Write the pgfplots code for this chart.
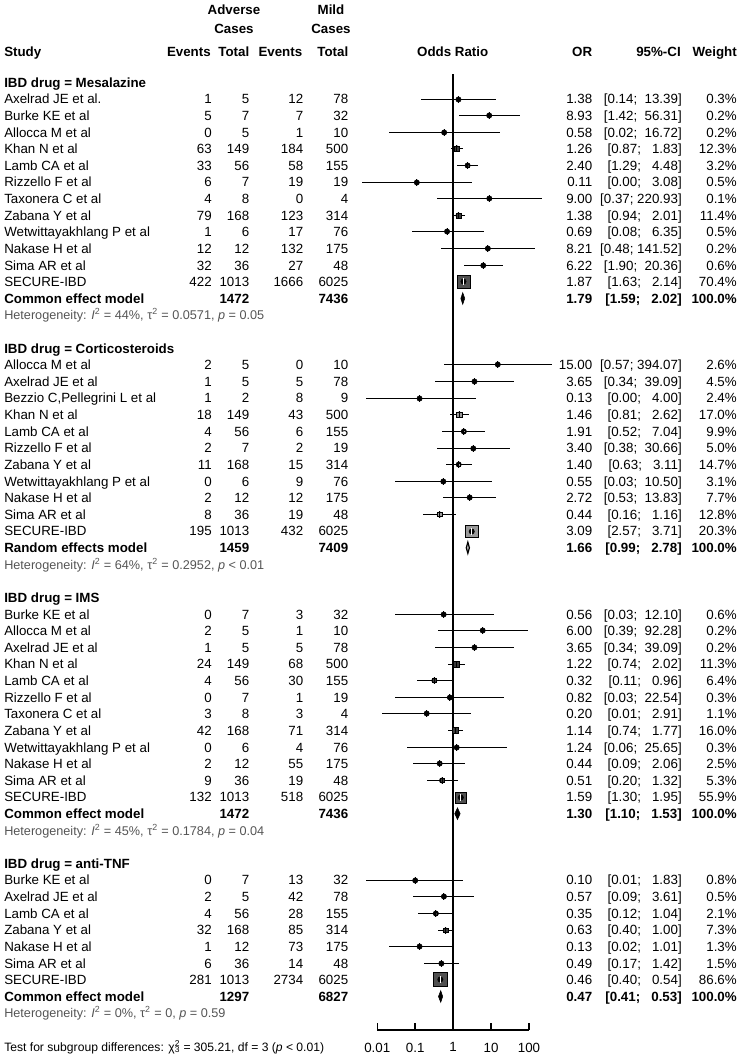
\documentclass[border=0pt]{standalone}
\usepackage{fontspec}
\setmainfont{Liberation Sans}
\usepackage{pgfplots}
\usepackage{pgfplotstable}
\pgfplotsset{compat=1.18}
\definecolor{sqdark}{HTML}{3A3A3A}
\definecolor{sqsec}{HTML}{505050}
\definecolor{sqlight}{HTML}{999999}
\definecolor{hetgray}{HTML}{555555}

\newcommand\fs{\fontsize{10}{12}\selectfont}
\newcommand\Y[1]{{-(87.2+16.62*(#1))}}
\newcommand\R[9]{%
 \node[anchor=base west] at (4,\Y{#1}) {#2};
 \node[anchor=base east] at (212,\Y{#1}) {#3};
 \node[anchor=base east] at (249.5,\Y{#1}) {#4};
 \node[anchor=base east] at (303.5,\Y{#1}) {#5};
 \node[anchor=base east] at (348.5,\Y{#1}) {#6};
 \node[anchor=base east] at (592.5,\Y{#1}) {#7};
 \node[anchor=base east] at (682,\Y{#1}) {#8};
 \node[anchor=base east] at (737,\Y{#1}) {#9};
}
\newcommand\M[7]{%
 \node[anchor=base west,font=\fs\bfseries] at (4,\Y{#1}) {#2};
 \node[anchor=base east,font=\fs\bfseries] at (249.5,\Y{#1}) {#3};
 \node[anchor=base east,font=\fs\bfseries] at (348.5,\Y{#1}) {#4};
 \node[anchor=base east,font=\fs\bfseries] at (592.5,\Y{#1}) {#5};
 \node[anchor=base east,font=\fs\bfseries] at (682,\Y{#1}) {#6};
 \node[anchor=base east,font=\fs\bfseries] at (737,\Y{#1}) {#7};
}
\newcommand\G[2]{\node[anchor=base west,font=\fs\bfseries] at (4,\Y{#1}) {#2};}
\newcommand\Het[2]{\node[anchor=base west,font=\fontsize{9.5}{11}\selectfont,text=hetgray] at (4,\Y{#1}) {#2};}

\pgfplotstableread{
row or lo hi s
1 1.38 0.14 13.39 0.8
2 8.93 1.42 56.31 0.7
3 0.58 0.02 16.72 0.7
4 1.26 0.87 1.83 5.3
5 2.40 1.29 4.48 2.7
6 0.11 0.004 3.08 1.1
7 9.00 0.37 220.93 0.5
8 1.38 0.94 2.01 5.1
9 0.69 0.08 6.35 1.1
10 8.21 0.48 141.52 0.7
11 6.22 1.90 20.36 1.2
}\mesa
\pgfplotstableread{
row or lo hi s
17 15.00 0.57 394.07 1
18 3.65 0.34 39.09 1
19 0.13 0.005 4.00 1
20 1.46 0.81 2.62 5.3
21 1.91 0.52 7.04 2.5
22 3.40 0.38 30.66 1.5
23 1.40 0.63 3.11 3.3
24 0.55 0.03 10.50 1
25 2.72 0.53 13.83 1.5
26 0.44 0.16 1.16 4.3
}\cort
\pgfplotstableread{
row or lo hi s
32 0.56 0.03 12.10 1.2
33 6.00 0.39 92.28 0.7
34 3.65 0.34 39.09 0.7
35 1.22 0.74 2.02 5.5
36 0.32 0.11 0.96 3.6
37 0.82 0.03 22.54 0.8
38 0.20 0.013 2.91 1.6
39 1.14 0.74 1.77 6.0
40 1.24 0.06 25.65 0.8
41 0.44 0.09 2.06 2.5
42 0.51 0.20 1.32 3.6
}\ims
\pgfplotstableread{
row or lo hi s
48 0.10 0.005 1.83 1.4
49 0.57 0.09 3.61 1.1
50 0.35 0.12 1.04 2.6
51 0.63 0.40 1.00 4.5
52 0.13 0.02 1.01 1.7
53 0.49 0.17 1.42 1.9
}\tnf
\pgfplotstableread{
row or lo hi s
12 1.87 1.63 2.14 12.6
43 1.59 1.30 1.95 11.4
54 0.46 0.40 0.54 14.2
}\secure
\pgfplotstableread{
row or lo hi s
27 3.09 2.57 3.71 12.4
}\csecure

\pgfplotsset{
 rowpos/.style={table/x=or,
   table/y expr={-(floor(82.4+16.62*\thisrow{row})+0.5-82.4)/16.62}},
 ci/.style={only marks, mark=none, forget plot, rowpos,
   table/x error plus expr=\thisrow{hi}-\thisrow{or},
   table/x error minus expr=\thisrow{or}-\thisrow{lo},
   error bars/.cd, x dir=both, x explicit, error mark=none,
   error bar style={draw=#1, line width=1pt}},
 sq/.style={scatter, only marks, mark=square*, point meta=\thisrow{s}, forget plot, rowpos,
   scatter/use mapped color={draw=none, fill=#1},
   visualization depends on={0.375*\thisrow{s} \as \sz},
   scatter/@pre marker code/.append style={/tikz/mark size=\sz}},
 tk/.style={only marks, mark=|, mark size=2.5pt, forget plot, rowpos,
   mark options={line width=0.75pt, draw=#1}},
}

\begin{document}
\begin{tikzpicture}
\useasboundingbox (0,0) rectangle (555.75pt,-795pt);
\begin{axis}[
  at={(282.975pt,-772.5pt)}, anchor=south west,
  scale only axis, width=113.78pt, height=717pt,
  xmode=log, xmin=0.01, xmax=100,
  ymin=-57.016, ymax=0.5054,
  axis x line*=bottom, axis y line=none,
  xtick={0.01,0.1,1,10,100}, xticklabels={0.01,0.1,1,10,100},
  xminorticks=false,
  tick align=inside, major tick length=5.25pt,
  xtick style={line width=1.2pt, black},
  axis line style={line width=1.2pt, black},
  xticklabel style={font=\fs, yshift=-6pt},
  /pgf/number format/assume math mode=true,
  clip=false,
]
\addplot[line width=1.2pt, black] coordinates {(1,0.5054) (1,-57.016)};
% CI lines
\addplot[ci=black] table {\mesa};
\addplot[ci=black] table {\cort};
\addplot[ci=black] table {\ims};
\addplot[ci=black] table {\tnf};
% squares
\addplot[sq=sqdark] table {\mesa};
\addplot[sq=sqlight] table {\cort};
\addplot[sq=sqdark] table {\ims};
\addplot[sq=sqdark] table {\tnf};
% estimate ticks
\addplot[tk=black] table {\mesa};
\addplot[tk=black] table {\cort};
\addplot[tk=black] table {\ims};
\addplot[tk=black] table {\tnf};
% SECURE-IBD boxes with white CI inside
\addplot[sq=sqsec] table {\secure};
\addplot[sq=sqlight] table {\csecure};
\addplot[ci=white] table {\secure};
\addplot[ci=white] table {\csecure};
\addplot[tk=white] table {\secure};
\addplot[tk=white] table {\csecure};
% summary diamonds
\addplot[fill=black, draw=black, line width=0.4pt] coordinates {(1.59,-13) (1.79,-12.65) (2.02,-13) (1.79,-13.35)} --cycle;
\addplot[fill=black!25, draw=black, line width=0.9pt] coordinates {(2.22,-28) (2.44,-27.66) (2.68,-28) (2.44,-28.34)} --cycle;
\addplot[fill=black, draw=black, line width=0.4pt] coordinates {(1.10,-44) (1.30,-43.65) (1.53,-44) (1.30,-44.35)} --cycle;
\addplot[fill=black, draw=black, line width=0.4pt] coordinates {(0.41,-55) (0.47,-54.65) (0.53,-55) (0.47,-55.35)} --cycle;
\end{axis}

\begin{scope}[x=0.75pt, y=0.75pt, every node/.style={inner sep=0pt, font=\fs}]
% header
\node[anchor=base, font=\fs\bfseries] at (234,-14.8) {Adverse};
\node[anchor=base, font=\fs\bfseries] at (234,-33.1) {Cases};
\node[anchor=base, font=\fs\bfseries] at (331,-14.8) {Mild};
\node[anchor=base, font=\fs\bfseries] at (331,-33.1) {Cases};
\node[anchor=base west, font=\fs\bfseries] at (4,-56.5) {Study};
\node[anchor=base east, font=\fs\bfseries] at (211,-56.5) {Events};
\node[anchor=base east, font=\fs\bfseries] at (249.5,-56.5) {Total};
\node[anchor=base east, font=\fs\bfseries] at (302.5,-56.5) {Events};
\node[anchor=base east, font=\fs\bfseries] at (348.5,-56.5) {Total};
\node[anchor=base, font=\fs\bfseries] at (452.7,-56.5) {Odds Ratio};
\node[anchor=base east, font=\fs\bfseries] at (592.5,-56.5) {OR};
\node[anchor=base east, font=\fs\bfseries] at (681,-56.5) {95\%-CI};
\node[anchor=base east, font=\fs\bfseries] at (737,-56.5) {Weight};

\G{0}{IBD drug = Mesalazine}
\R{1}{Axelrad JE et al.}{1}{5}{12}{78}{1.38}{[0.14;\ \ 13.39]}{0.3\%}
\R{2}{Burke KE et al}{5}{7}{7}{32}{8.93}{[1.42;\ \ 56.31]}{0.2\%}
\R{3}{Allocca M et al}{0}{5}{1}{10}{0.58}{[0.02;\ \ 16.72]}{0.2\%}
\R{4}{Khan N et al}{63}{149}{184}{500}{1.26}{[0.87;\ \ \ 1.83]}{12.3\%}
\R{5}{Lamb CA et al}{33}{56}{58}{155}{2.40}{[1.29;\ \ \ 4.48]}{3.2\%}
\R{6}{Rizzello F et al}{6}{7}{19}{19}{0.11}{[0.00;\ \ \ 3.08]}{0.5\%}
\R{7}{Taxonera C et al}{4}{8}{0}{4}{9.00}{[0.37;\ 220.93]}{0.1\%}
\R{8}{Zabana Y et al}{79}{168}{123}{314}{1.38}{[0.94;\ \ \ 2.01]}{11.4\%}
\R{9}{Wetwittayakhlang P et al}{1}{6}{17}{76}{0.69}{[0.08;\ \ \ 6.35]}{0.5\%}
\R{10}{Nakase H et al}{12}{12}{132}{175}{8.21}{[0.48;\ 141.52]}{0.2\%}
\R{11}{Sima AR et al}{32}{36}{27}{48}{6.22}{[1.90;\ \ 20.36]}{0.6\%}
\R{12}{SECURE-IBD}{422}{1013}{1666}{6025}{1.87}{[1.63;\ \ \ 2.14]}{70.4\%}
\M{13}{Common effect model}{1472}{7436}{1.79}{[1.59;\ \ \ 2.02]}{100.0\%}
\Het{14}{Heterogeneity: \textit{I}\textsuperscript{2} = 44\%, τ\textsuperscript{2} = 0.0571, \textit{p} = 0.05}

\G{16}{IBD drug = Corticosteroids}
\R{17}{Allocca M et al}{2}{5}{0}{10}{15.00}{[0.57;\ 394.07]}{2.6\%}
\R{18}{Axelrad JE et al}{1}{5}{5}{78}{3.65}{[0.34;\ \ 39.09]}{4.5\%}
\R{19}{Bezzio C,Pellegrini L et al}{1}{2}{8}{9}{0.13}{[0.00;\ \ \ 4.00]}{2.4\%}
\R{20}{Khan N et al}{18}{149}{43}{500}{1.46}{[0.81;\ \ \ 2.62]}{17.0\%}
\R{21}{Lamb CA et al}{4}{56}{6}{155}{1.91}{[0.52;\ \ \ 7.04]}{9.9\%}
\R{22}{Rizzello F et al}{2}{7}{2}{19}{3.40}{[0.38;\ \ 30.66]}{5.0\%}
\R{23}{Zabana Y et al}{11}{168}{15}{314}{1.40}{[0.63;\ \ \ 3.11]}{14.7\%}
\R{24}{Wetwittayakhlang P et al}{0}{6}{9}{76}{0.55}{[0.03;\ \ 10.50]}{3.1\%}
\R{25}{Nakase H et al}{2}{12}{12}{175}{2.72}{[0.53;\ \ 13.83]}{7.7\%}
\R{26}{Sima AR et al}{8}{36}{19}{48}{0.44}{[0.16;\ \ \ 1.16]}{12.8\%}
\R{27}{SECURE-IBD}{195}{1013}{432}{6025}{3.09}{[2.57;\ \ \ 3.71]}{20.3\%}
\M{28}{Random effects model}{1459}{7409}{1.66}{[0.99;\ \ \ 2.78]}{100.0\%}
\Het{29}{Heterogeneity: \textit{I}\textsuperscript{2} = 64\%, τ\textsuperscript{2} = 0.2952, \textit{p} < 0.01}

\G{31}{IBD drug = IMS}
\R{32}{Burke KE et al}{0}{7}{3}{32}{0.56}{[0.03;\ \ 12.10]}{0.6\%}
\R{33}{Allocca M et al}{2}{5}{1}{10}{6.00}{[0.39;\ \ 92.28]}{0.2\%}
\R{34}{Axelrad JE et al}{1}{5}{5}{78}{3.65}{[0.34;\ \ 39.09]}{0.2\%}
\R{35}{Khan N et al}{24}{149}{68}{500}{1.22}{[0.74;\ \ \ 2.02]}{11.3\%}
\R{36}{Lamb CA et al}{4}{56}{30}{155}{0.32}{[0.11;\ \ \ 0.96]}{6.4\%}
\R{37}{Rizzello F et al}{0}{7}{1}{19}{0.82}{[0.03;\ \ 22.54]}{0.3\%}
\R{38}{Taxonera C et al}{3}{8}{3}{4}{0.20}{[0.01;\ \ \ 2.91]}{1.1\%}
\R{39}{Zabana Y et al}{42}{168}{71}{314}{1.14}{[0.74;\ \ \ 1.77]}{16.0\%}
\R{40}{Wetwittayakhlang P et al}{0}{6}{4}{76}{1.24}{[0.06;\ \ 25.65]}{0.3\%}
\R{41}{Nakase H et al}{2}{12}{55}{175}{0.44}{[0.09;\ \ \ 2.06]}{2.5\%}
\R{42}{Sima AR et al}{9}{36}{19}{48}{0.51}{[0.20;\ \ \ 1.32]}{5.3\%}
\R{43}{SECURE-IBD}{132}{1013}{518}{6025}{1.59}{[1.30;\ \ \ 1.95]}{55.9\%}
\M{44}{Common effect model}{1472}{7436}{1.30}{[1.10;\ \ \ 1.53]}{100.0\%}
\Het{45}{Heterogeneity: \textit{I}\textsuperscript{2} = 45\%, τ\textsuperscript{2} = 0.1784, \textit{p} = 0.04}

\G{47}{IBD drug = anti-TNF}
\R{48}{Burke KE et al}{0}{7}{13}{32}{0.10}{[0.01;\ \ \ 1.83]}{0.8\%}
\R{49}{Axelrad JE et al}{2}{5}{42}{78}{0.57}{[0.09;\ \ \ 3.61]}{0.5\%}
\R{50}{Lamb CA et al}{4}{56}{28}{155}{0.35}{[0.12;\ \ \ 1.04]}{2.1\%}
\R{51}{Zabana Y et al}{32}{168}{85}{314}{0.63}{[0.40;\ \ \ 1.00]}{7.3\%}
\R{52}{Nakase H et al}{1}{12}{73}{175}{0.13}{[0.02;\ \ \ 1.01]}{1.3\%}
\R{53}{Sima AR et al}{6}{36}{14}{48}{0.49}{[0.17;\ \ \ 1.42]}{1.5\%}
\R{54}{SECURE-IBD}{281}{1013}{2734}{6025}{0.46}{[0.40;\ \ \ 0.54]}{86.6\%}
\M{55}{Common effect model}{1297}{6827}{0.47}{[0.41;\ \ \ 0.53]}{100.0\%}
\Het{56}{Heterogeneity: \textit{I}\textsuperscript{2} = 0\%, τ\textsuperscript{2} = 0, \textit{p} = 0.59}

\node[anchor=base west, font=\fontsize{9.1}{11}\selectfont] at (4,\Y{58}) {Test for subgroup differences: χ\rlap{\textsuperscript{2}}\textsubscript{3} = 305.21, df = 3 (\textit{p} < 0.01)};
\end{scope}
\end{tikzpicture}
\end{document}
